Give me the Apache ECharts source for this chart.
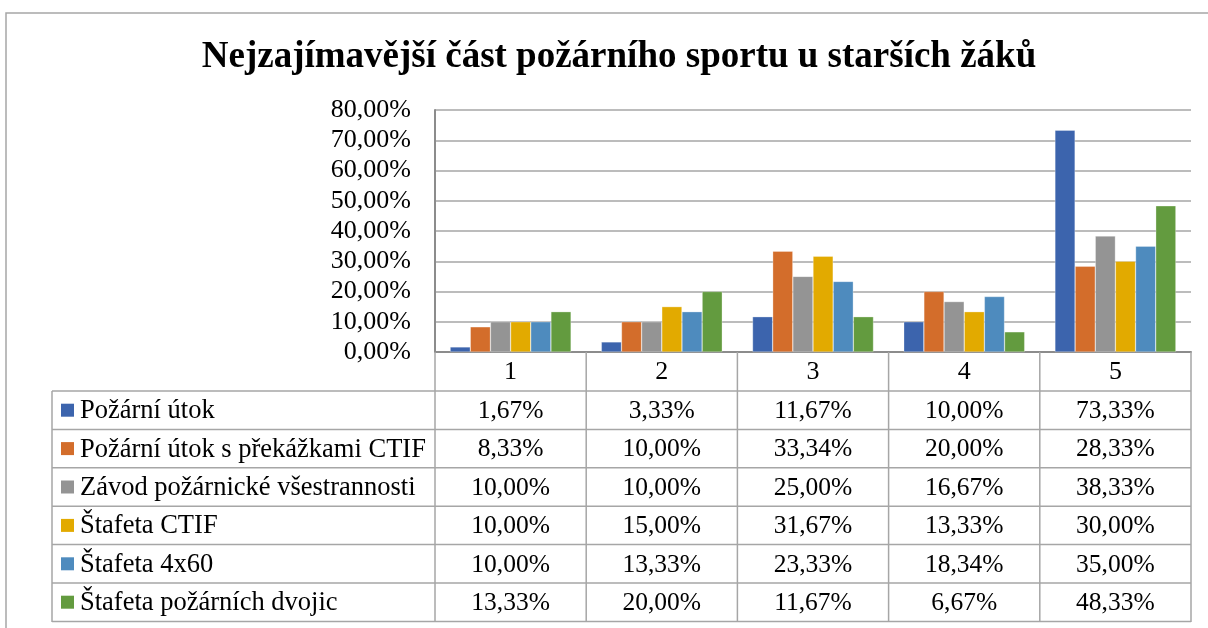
<!DOCTYPE html>
<html>
<head>
<meta charset="utf-8">
<script src="https://cdn.jsdelivr.net/npm/echarts@6/dist/echarts.min.js"></script>
<style>
  html, body { margin: 0; padding: 0; background: #fff; }
  #chart { width: 1208px; height: 628px; }
</style>
</head>
<body>
<div id="chart"></div>
<script>
// data (percent)
const categories = ["1", "2", "3", "4", "5"];
const seriesNames = [
  "Požární útok",
  "Požární útok s překážkami CTIF",
  "Závod požárnické všestrannosti",
  "Štafeta CTIF",
  "Štafeta 4x60",
  "Štafeta požárních dvojic"
];
const pozarniUtok = [1.67, 3.33, 11.67, 10.00, 73.33];
const utokCtif = [8.33, 10.00, 33.34, 20.00, 28.33];
const zavodVsestrannosti = [10.00, 10.00, 25.00, 16.67, 38.33];
const stafetaCtif = [10.00, 15.00, 31.67, 13.33, 30.00];
const stafeta4x60 = [10.00, 13.33, 23.33, 18.34, 35.00];
const stafetaDvojic = [13.33, 20.00, 11.67, 6.67, 48.33];
const yTicks = [0, 10, 20, 30, 40, 50, 60, 70, 80];

const seriesValues = [pozarniUtok, utokCtif, zavodVsestrannosti, stafetaCtif, stafeta4x60, stafetaDvojic];
const colors = ["#3C64AD", "#D36D2B", "#949494", "#E2AA00", "#4E8BBE", "#639B3F"];

const FONT = "Liberation Serif";
const fmt = v => v.toFixed(2).replace(".", ",") + "%";

const gridLeft = 435, gridRight = 1191, gridTop = 110, gridBottom = 352;
const tableLeft = 52, rowH = 38.4, tableBottom = 622;
const lineColor = "#a6a6a6";

const chart = echarts.init(document.getElementById("chart"));
chart.setOption({
  animation: false,
  title: {
    text: "Nejzajímavější část požárního sportu u starších žáků",
    left: 614,
    top: 34,
    textAlign: "center",
    textStyle: { fontFamily: FONT, fontSize: 37, fontWeight: "bold", color: "#000" }
  },
  grid: {
    left: gridLeft,
    right: 1208 - gridRight,
    top: gridTop,
    bottom: 628 - gridBottom,
    containLabel: false
  },
  xAxis: {
    type: "category",
    data: categories,
    axisTick: { show: false },
    axisLabel: { show: false },
    axisLine: { lineStyle: { color: "#8c8c8c", width: 2 } }
  },
  yAxis: {
    type: "value",
    min: yTicks[0],
    max: yTicks[yTicks.length - 1],
    interval: 10,
    axisLine: { show: true, lineStyle: { color: "#8c8c8c", width: 2 } },
    axisTick: { show: false },
    splitLine: { lineStyle: { color: lineColor, width: 1.5 } },
    axisLabel: {
      margin: 24,
      fontFamily: FONT,
      fontSize: 26,
      color: "#000",
      formatter: v => fmt(v)
    }
  },
  series: seriesNames.map((name, i) => ({
    name: name,
    type: "bar",
    data: seriesValues[i],
    barGap: "0%",
    barCategoryGap: "20%",
    itemStyle: { color: colors[i], borderColor: "rgba(255,255,255,0.6)", borderWidth: 0.5 }
  }))
});

// data table below the plot, aligned to the category axis
const band = (gridRight - gridLeft) / categories.length;
const centers = categories.map((c, i) => chart.convertToPixel({ xAxisIndex: 0 }, i));
const els = [];
const hline = (x1, x2, y) => els.push({ type: "line", shape: { x1, y1: y, x2, y2: y }, style: { stroke: lineColor, lineWidth: 1.5 }, z: 10 });
const vline = (x, y1, y2) => els.push({ type: "line", shape: { x1: x, y1, x2: x, y2 }, style: { stroke: lineColor, lineWidth: 1.5 }, z: 10 });

// outer chart frame
els.push({ type: "polyline", shape: { points: [[6, 640], [6, 13], [1230, 13]] }, style: { stroke: "#a6a6a6", lineWidth: 1.5, fill: null } });

const headerTop = gridBottom;
const bodyTop = headerTop + rowH + 0.6;
for (let r = 0; r <= seriesNames.length; r++) hline(tableLeft, gridRight, bodyTop + r * rowH);
vline(tableLeft, bodyTop, tableBottom);
vline(gridLeft, headerTop, tableBottom);
for (let i = 1; i <= categories.length; i++) vline(gridLeft + i * band, headerTop, tableBottom);

categories.forEach((c, i) => {
  els.push({ type: "text", x: centers[i], y: headerTop + rowH / 2 + 1,
    style: { text: c, fontFamily: FONT, fontSize: 26, fill: "#000", align: "center", verticalAlign: "middle" } });
});

seriesNames.forEach((name, r) => {
  const cy = bodyTop + r * rowH + rowH / 2;
  els.push({ type: "rect", shape: { x: 61, y: cy - 6.5, width: 13, height: 13 }, style: { fill: colors[r] } });
  els.push({ type: "text", x: 80, y: cy + 1,
    style: { text: name, fontFamily: FONT, fontSize: 26.5, fill: "#000", align: "left", verticalAlign: "middle" } });
  seriesValues[r].forEach((v, i) => {
    els.push({ type: "text", x: centers[i], y: cy + 1,
      style: { text: fmt(v), fontFamily: FONT, fontSize: 25.5, fill: "#000", align: "center", verticalAlign: "middle" } });
  });
});

chart.setOption({ graphic: { elements: els } });
</script>
</body>
</html>
